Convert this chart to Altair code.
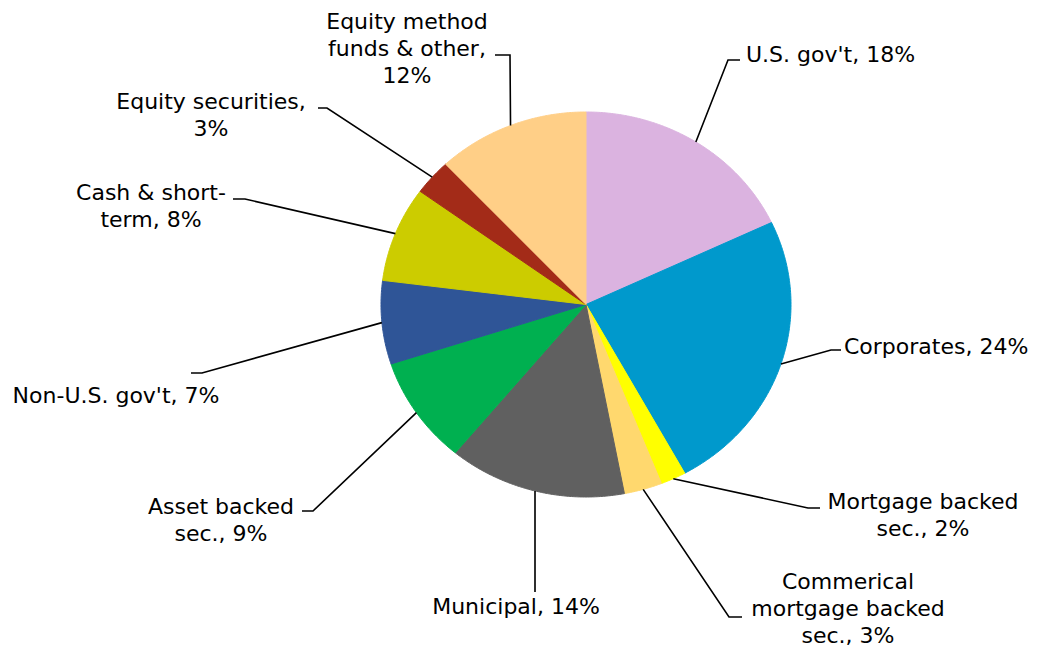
import math
import altair as alt
import pandas as pd

# ---------------- data ----------------
categories = ["U.S. gov't", "Corporates", "Mortgage backed sec.",
              "Commerical mortgage backed sec.", "Municipal", "Asset backed sec.",
              "Non-U.S. gov't", "Cash & short-term", "Equity securities",
              "Equity method funds & other"]
values = [18, 24, 2, 3, 14, 9, 7, 8, 3, 12]
colors = ["#DBB3E0", "#0099CC", "#FFFF00", "#FFD86E", "#606060",
          "#00B050", "#2F5597", "#CCCC00", "#A32B18", "#FFCF87"]
label_lines = [
    ["U.S. gov't, 18%"],
    ["Corporates, 24%"],
    ["Mortgage backed", "sec., 2%"],
    ["Commerical", "mortgage backed", "sec., 3%"],
    ["Municipal, 14%"],
    ["Asset backed", "sec., 9%"],
    ["Non-U.S. gov't, 7%"],
    ["Cash & short-", "term, 8%"],
    ["Equity securities,", "3%"],
    ["Equity method", "funds & other,", "12%"],
]

# ---------------- layout (page pixels) ----------------
CX, CY, RX, RY = 586.0, 304.5, 205.0, 192.5
LINE_H = 27
label_x = [746, 844, 923, 848, 516, 221, 116, 151, 211, 407]
label_y = [55, 347, 502, 582, 607, 507, 396, 193, 102, 22]
label_align = ["left", "left", "center", "center", "center",
               "center", "center", "center", "center", "center"]
elbow_pts = [(728, 60), (831, 350), (808, 508), (729, 617), (535, 592),
             (313, 511), (202, 373), (245, 199), (327, 108), (510, 55)]
end_pts = [(740, 60), (841, 350), (820, 508), (742, 617), (535, 592),
           (302, 511), (191, 373), (233, 199), (318, 108), (495, 55)]

total = float(sum(values))


def edge(frac):
    a = 2 * math.pi * frac
    return CX + RX * math.sin(a), CY - RY * math.cos(a)


# pie wedges (polygons), angles from the values
pie_rows = []
cum = 0.0
for i, v in enumerate(values):
    s, e = cum / total, (cum + v) / total
    cum += v
    k = 0
    pie_rows.append(dict(slice=i, k=k, x=CX, y=CY, color=colors[i]))
    n = max(4, int(v * 8))
    for j in range(n + 1):
        k += 1
        x, y = edge(s + (e - s) * j / n)
        pie_rows.append(dict(slice=i, k=k, x=x, y=y, color=colors[i]))
    k += 1
    pie_rows.append(dict(slice=i, k=k, x=CX, y=CY, color=colors[i]))
pie_df = pd.DataFrame(pie_rows)

# leader lines
lead_rows = []
cum = 0.0
for i, v in enumerate(values):
    mid = (cum + v / 2) / total
    cum += v
    sx, sy = edge(mid)
    lead_rows.append(dict(slice=i, k=0, x=sx, y=sy))
    lead_rows.append(dict(slice=i, k=1, x=elbow_pts[i][0], y=elbow_pts[i][1]))
    lead_rows.append(dict(slice=i, k=2, x=end_pts[i][0], y=end_pts[i][1]))
lead_df = pd.DataFrame(lead_rows)

# labels
text_rows = []
for i, lines in enumerate(label_lines):
    for j, t in enumerate(lines):
        text_rows.append(dict(slice=i, text=t, x=label_x[i],
                              y=label_y[i] + j * LINE_H, align=label_align[i]))
text_df = pd.DataFrame(text_rows)

W, H = 1022, 640
xs = alt.Scale(domain=[8, 8 + W], range=[0, W], nice=False, zero=False)
ys = alt.Scale(domain=[8, 8 + H], range=[0, H], nice=False, zero=False)

pie = alt.Chart(pie_df).mark_line(strokeWidth=1, strokeJoin="round").encode(
    x=alt.X("x:Q", scale=xs, axis=None),
    y=alt.Y("y:Q", scale=ys, axis=None),
    detail="slice:N",
    order="k:Q",
    fill=alt.Fill("color:N", scale=None),
    stroke=alt.Stroke("color:N", scale=None),
)

leaders = alt.Chart(lead_df).mark_line(color="black", strokeWidth=1.6).encode(
    x=alt.X("x:Q", scale=xs, axis=None),
    y=alt.Y("y:Q", scale=ys, axis=None),
    detail="slice:N",
    order="k:Q",
)

text_left = alt.Chart(text_df).transform_filter(
    alt.datum.align == "left"
).mark_text(font="DejaVu Sans", fontSize=22, align="left", baseline="middle",
            color="black").encode(
    x=alt.X("x:Q", scale=xs, axis=None),
    y=alt.Y("y:Q", scale=ys, axis=None),
    text="text:N",
)
text_center = alt.Chart(text_df).transform_filter(
    alt.datum.align == "center"
).mark_text(font="DejaVu Sans", fontSize=22, align="center", baseline="middle",
            color="black").encode(
    x=alt.X("x:Q", scale=xs, axis=None),
    y=alt.Y("y:Q", scale=ys, axis=None),
    text="text:N",
)

chart = alt.layer(pie, leaders, text_left, text_center).properties(
    width=W, height=H, padding=0, autosize=alt.AutoSizeParams(type="none"),
    background="white",
).configure_view(stroke=None)

chart.save("out.html", embed_options={"renderer": "svg", "actions": False})
